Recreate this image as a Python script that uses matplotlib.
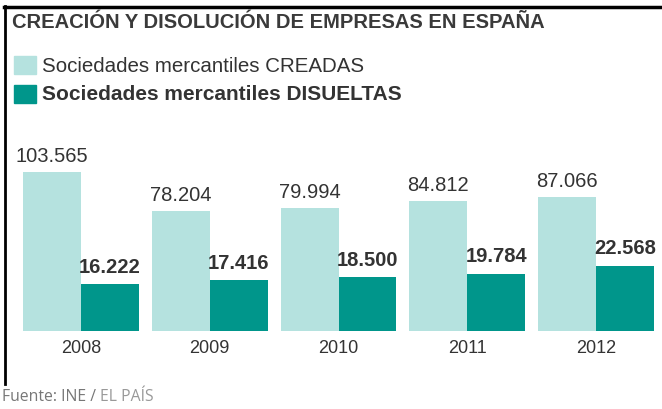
import matplotlib.pyplot as plt
import numpy as np

# datos
anios = ['2008', '2009', '2010', '2011', '2012']
creadas = [103565, 78204, 79994, 84812, 87066]
disueltas = [16222, 17416, 18500, 19784, 22568]
lbl_creadas = ['103.565', '78.204', '79.994', '84.812', '87.066']
lbl_disueltas = ['16.222', '17.416', '18.500', '19.784', '22.568']

plt.rcParams['font.family'] = ['Liberation Sans', 'DejaVu Sans']

c_claro = '#b5e2df'
c_oscuro = '#00968b'
c_texto = '#333333'

W, H = 662, 410
fig = plt.figure(figsize=(W / 100, H / 100), dpi=100)

# ejes: linea base en y=332 px, tope en y=100 px
base = 332
top = 100
ax = fig.add_axes([0, (H - base) / H, 1, (base - top) / H])
ax2 = ax.twinx()  # las disueltas van a otra escala, como en el original

x = np.arange(len(anios))
w = 0.45
ax.bar(x - w / 2, creadas, w, color=c_claro)
ax2.bar(x + w / 2, disueltas, w, color=c_oscuro)

paso = 128.75
ax.set_xlim(-81 / paso, 4 + 66 / paso)
ax.set_ylim(0, 150800)
ax2.set_ylim(0, 80000)

for i in range(len(anios)):
    ax.annotate(lbl_creadas[i], (x[i] - w / 2, creadas[i]), xytext=(0, 5),
                textcoords='offset points', ha='center', va='bottom',
                fontsize=14.5, color=c_texto)
    ax2.annotate(lbl_disueltas[i], (x[i] + w / 2, disueltas[i]), xytext=(0, 6),
                 textcoords='offset points', ha='center', va='bottom',
                 fontsize=14.5, color=c_texto, fontweight='bold')

ax.set_xticks(x)
ax.set_xticklabels(anios, fontsize=13, color=c_texto)
ax.tick_params(axis='x', length=0, pad=6)
ax.set_yticks([])
ax2.set_yticks([])
for a in (ax, ax2):
    for s in a.spines.values():
        s.set_visible(False)
    a.patch.set_visible(False)

# titulo y leyenda
fig.text(12 / W, 1 - 23 / H, 'CREACIÓN Y DISOLUCIÓN DE EMPRESAS EN ESPAÑA',
         fontsize=14.5, fontweight='bold', color='#3a3a3a', va='center')
fig.patches.append(plt.Rectangle((14 / W, 1 - 75 / H), 22 / W, 18 / H,
                                 transform=fig.transFigure, color=c_claro))
fig.patches.append(plt.Rectangle((14 / W, 1 - 104 / H), 22 / W, 18 / H,
                                 transform=fig.transFigure, color=c_oscuro))
fig.text(42 / W, 1 - 67 / H, 'Sociedades mercantiles CREADAS',
         fontsize=14.8, color=c_texto, va='center')
fig.text(42 / W, 1 - 95 / H, 'Sociedades mercantiles DISUELTAS',
         fontsize=15, fontweight='bold', color=c_texto, va='center')

# marco
fig.add_artist(plt.Line2D([5 / W, 5 / W], [1 - 7 / H, 1 - 385 / H],
                          transform=fig.transFigure, color='black', lw=2))
fig.add_artist(plt.Line2D([4 / W, 1], [1 - 8 / H, 1 - 8 / H],
                          transform=fig.transFigure, color='black', lw=2.5))

# fuente
t = fig.text(2 / W, 1 - 397 / H, 'Fuente: INE / ', fontsize=11.3,
             color='#777777', va='center', family=['Open Sans', 'DejaVu Sans'])
fig.canvas.draw()
bb = t.get_window_extent()
fig.text(bb.x1 / W, 1 - 397 / H, 'EL PAÍS', fontsize=11.3,
         color='#999999', va='center', family=['Open Sans', 'DejaVu Sans'])

fig.savefig('out.png', dpi=100)
